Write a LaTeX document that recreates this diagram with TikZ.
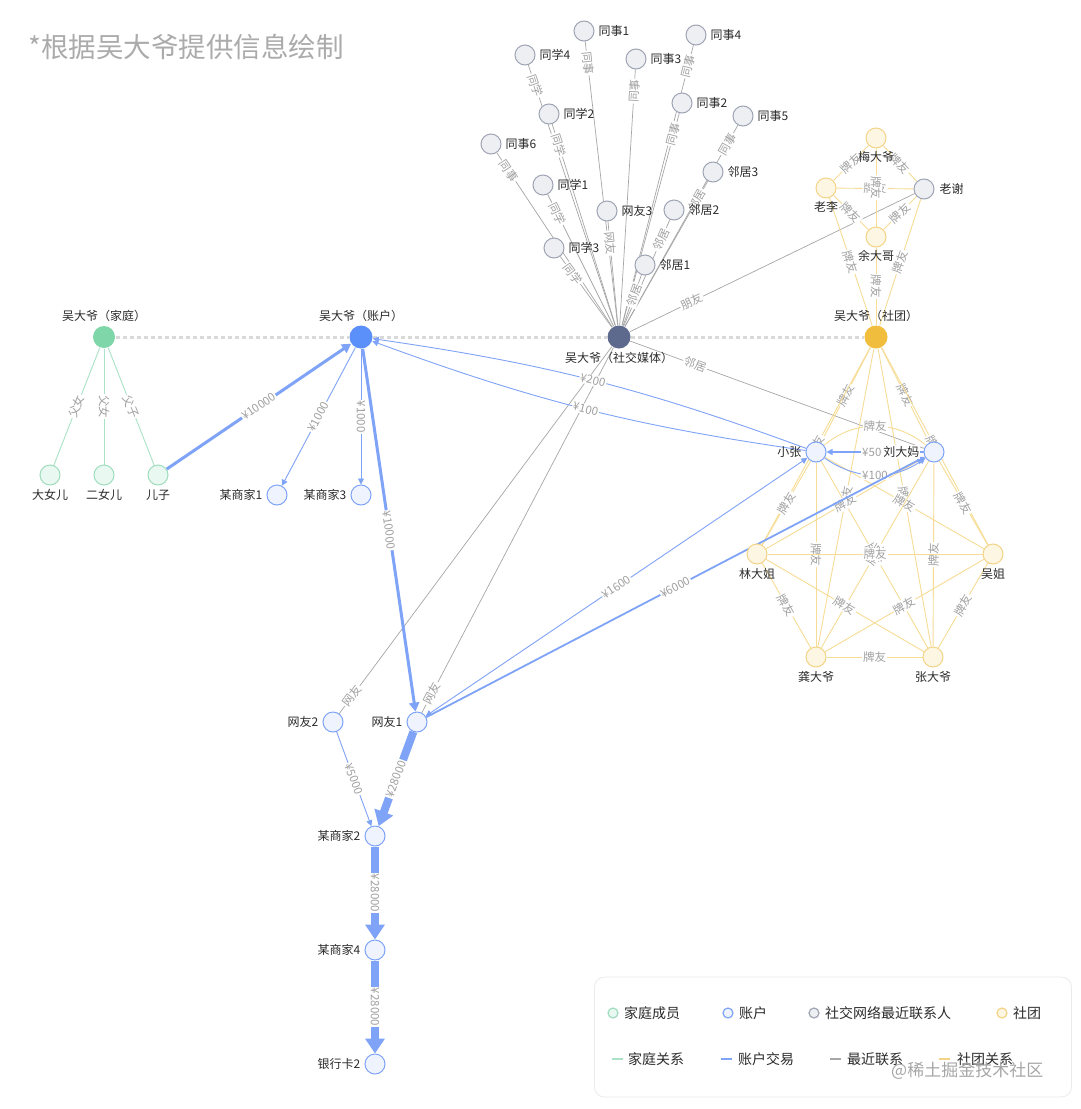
\documentclass[tikz,border=0pt]{standalone}
\usepackage{fontspec}
\setmainfont{Noto Sans CJK SC}
\usetikzlibrary{arrows.meta,calc,backgrounds}
\definecolor{famC}{HTML}{7ED6A9}
\definecolor{famF}{HTML}{E9F8F0}
\definecolor{famD}{HTML}{9EDDBD}
\definecolor{famE}{HTML}{A9E2C6}
\definecolor{accC}{HTML}{5B8FF9}
\definecolor{accF}{HTML}{EEF3FE}
\definecolor{accD}{HTML}{7FA4F7}
\definecolor{accE}{HTML}{7FA3F7}
\definecolor{socC}{HTML}{5E6A8D}
\definecolor{socF}{HTML}{EEEFF3}
\definecolor{socD}{HTML}{9EA4B3}
\definecolor{socE}{HTML}{A6A6A6}
\definecolor{clubC}{HTML}{F1BD3D}
\definecolor{clubF}{HTML}{FDF6E2}
\definecolor{clubD}{HTML}{F3D487}
\definecolor{clubE}{HTML}{F6DC95}
\definecolor{labT}{HTML}{2B2B2B}
\definecolor{elabT}{HTML}{A0A0A0}
\definecolor{dashC}{HTML}{D9D9D9}
\definecolor{legB}{HTML}{EBEBEB}
\begin{document}
\begin{tikzpicture}[x=1pt,y=-1pt,
  every node/.style={inner sep=0pt},
  base/.style={circle, minimum size=20pt, line width=1pt},
  famc/.style={base, fill=famC, minimum size=22pt},
  famn/.style={base, fill=famF, draw=famD},
  accc/.style={base, fill=accC, minimum size=23pt},
  accn/.style={base, fill=accF, draw=accD},
  socc/.style={base, fill=socC, minimum size=23pt},
  socn/.style={base, fill=socF, draw=socD},
  clubc/.style={base, fill=clubC, minimum size=23pt},
  clubn/.style={base, fill=clubF, draw=clubD},
  nlab/.style={font=\fontsize{12}{12}\selectfont, text=labT, inner sep=0pt},
  elab/.style={font=\fontsize{11.5}{12}\selectfont, text=elabT, sloped, fill=white, inner sep=1pt},
  centerline/.style={draw=dashC, line width=3pt, dash pattern=on 4pt off 3pt},
  famedge/.style={draw=famE, line width=0.9pt},
  accedge/.style={draw=accE, line width=0.9pt},
  socedge/.style={draw=socE, line width=0.7pt},
  clubedge/.style={draw=clubE, line width=0.9pt},
  thin arrow/.style={-{Triangle[length=6pt,width=6pt]}},
  mid arrow/.style={-{Triangle[length=9pt,width=10pt]}},
  big arrow/.style={-{Triangle[length=15pt,width=19pt]}},
  legtxt/.style={font=\fontsize{14}{14}\selectfont, text=labT, anchor=west},
]
\useasboundingbox (0,0) rectangle (1080,1109);

% ---------- title
\node[anchor=west, font=\fontsize{27.5}{28}\selectfont, text=black!33] (title) at (28,47) {*根据吴大爷提供信息绘制};

% ---------- center nodes
\node[famc, label={[nlab,label distance=4pt]above:吴大爷（家庭）}] (fam) at (104,337) {};
\node[accc, label={[nlab,label distance=3pt]above:吴大爷（账户）}] (acc) at (361,337) {};
\node[socc, label={[nlab,label distance=3pt]below:吴大爷（社交媒体）}] (soc) at (619,337) {};
\node[clubc, label={[nlab,label distance=3pt]above:吴大爷（社团）}] (club) at (876,337) {};

% ---------- family
\node[famn, label={[nlab,label distance=4pt]below:大女儿}] (d1) at (50,475) {};
\node[famn, label={[nlab,label distance=4pt]below:二女儿}] (d2) at (104,475) {};
\node[famn, label={[nlab,label distance=4pt]below:儿子}] (son) at (158,475) {};

% ---------- account
\node[accn, label={[nlab,label distance=4pt]left:某商家1}] (m1) at (277,495) {};
\node[accn, label={[nlab,label distance=4pt]left:某商家3}] (m3) at (361,495) {};
\node[accn, label={[nlab,label distance=4pt]left:网友1}] (wy1) at (417,722) {};
\node[accn, label={[nlab,label distance=4pt]left:网友2}] (wy2) at (333,722) {};
\node[accn, label={[nlab,label distance=4pt]left:某商家2}] (m2) at (375,836) {};
\node[accn, label={[nlab,label distance=4pt]left:某商家4}] (m4) at (375,950) {};
\node[accn, label={[nlab,label distance=4pt]left:银行卡2}] (bank) at (375,1064) {};
\node[accn, label={[nlab,label distance=4pt]left:小张}] (xz) at (816,452) {};
\node[accn, label={[nlab,fill=white,inner sep=1pt,label distance=3pt]left:刘大妈}] (ldm) at (934,452) {};

% ---------- social
\node[socn, label={[nlab,label distance=4pt]right:同事1}] (ts1) at (584,31) {};
\node[socn, label={[nlab,label distance=4pt]right:同学4}] (tx4) at (525,55) {};
\node[socn, label={[nlab,label distance=4pt]right:同事3}] (ts3) at (636,59) {};
\node[socn, label={[nlab,label distance=4pt]right:同事4}] (ts4) at (696,35) {};
\node[socn, label={[nlab,label distance=4pt]right:同学2}] (tx2) at (549,114) {};
\node[socn, label={[nlab,label distance=4pt]right:同事2}] (ts2) at (682,103) {};
\node[socn, label={[nlab,label distance=4pt]right:同事5}] (ts5) at (743,116) {};
\node[socn, label={[nlab,label distance=4pt]right:同事6}] (ts6) at (491,144) {};
\node[socn, label={[nlab,label distance=4pt]right:邻居3}] (lj3) at (713,172) {};
\node[socn, label={[nlab,label distance=4pt]right:同学1}] (tx1) at (543,185) {};
\node[socn, label={[nlab,label distance=4pt]right:网友3}] (wy3) at (607,211) {};
\node[socn, label={[nlab,label distance=4pt]right:邻居2}] (lj2) at (674,210) {};
\node[socn, label={[nlab,label distance=4pt]right:同学3}] (tx3) at (554,248) {};
\node[socn, label={[nlab,label distance=4pt]right:邻居1}] (lj1) at (645,265) {};
\node[socn, label={[nlab,label distance=5pt]right:老谢}] (lx) at (924,189) {};

% ---------- club
\node[clubn, label={[nlab,label distance=3pt]below:梅大爷}] (mdy) at (876,138) {};
\node[clubn, label={[nlab,label distance=3pt]below:老李}] (ll) at (826,188) {};
\node[clubn, label={[nlab,label distance=3pt]below:余大哥}] (ydg) at (876,237) {};
\node[clubn, label={[nlab,label distance=4pt]below:林大姐}] (ljz) at (757,554) {};
\node[clubn, label={[nlab,label distance=4pt]below:吴姐}] (wj) at (993,554) {};
\node[clubn, label={[nlab,label distance=4pt]below:龚大爷}] (gdy) at (816,657) {};
\node[clubn, label={[nlab,label distance=4pt]below:张大爷}] (zdy) at (933,657) {};

% ---------- legend
\node[draw=legB, fill=white, line width=0.8pt, rounded corners=10pt, minimum width=477pt, minimum height=120pt] (legend) at (833,1037) {};
\node[circle, draw=famD, fill=famF, line width=1.2pt, minimum size=10pt] (lc1) at (613,1013) {};
\node[legtxt] (lt1) at (624,1013) {家庭成员};
\node[circle, draw=accD, fill=accF, line width=1.2pt, minimum size=10pt] (lc2) at (728,1013) {};
\node[legtxt] (lt2) at (739,1013) {账户};
\node[circle, draw=socD, fill=socF, line width=1.2pt, minimum size=10pt] (lc3) at (814,1013) {};
\node[legtxt] (lt3) at (825,1013) {社交网络最近联系人};
\node[circle, draw=clubD, fill=clubF, line width=1.2pt, minimum size=10pt] (lc4) at (1002,1013) {};
\node[legtxt] (lt4) at (1013,1013) {社团};
\draw[famE, line width=1.2pt] (612,1059) -- (623,1059);
\node[legtxt] (lt5) at (628,1059) {家庭关系};
\draw[accD, line width=1.2pt] (721,1059) -- (732,1059);
\node[legtxt] (lt6) at (738,1059) {账户交易};
\draw[socE, line width=1.2pt] (830,1059) -- (841,1059);
\node[legtxt] (lt7) at (847,1059) {最近联系};
\draw[clubD, line width=1.2pt] (939,1059) -- (950,1059);
\node[legtxt] (lt8) at (957,1059) {社团关系};
\node[anchor=west, font=\fontsize{17}{17}\selectfont, text=black!35] (wm) at (891,1071) {@稀土掘金技术社区};

% ---------- edges
\begin{pgfonlayer}{background}
\fill[white] (0,0) rectangle (1080,1109);
\draw[centerline] (fam) -- (acc) -- (soc) -- (club);

% family
\draw[famedge] (fam) -- node[elab]{父女} (d1);
\draw[famedge] (fam) -- node[elab]{父女} (d2);
\draw[famedge] (fam) -- node[elab]{父子} (son);

% social
\foreach \n/\t in {ts1/同事, tx4/同学, ts3/同事, ts4/同事, tx2/同学, ts2/同事, ts5/同事, ts6/同事, lj3/邻居, tx1/同学, wy3/网友, lj2/邻居, tx3/同学, lj1/邻居, wy1/网友, wy2/网友}{
  \draw[socedge] (soc) -- (\n);
  \path (\n) -- node[elab]{\t} ($(\n)!54pt!(soc)$);
}
\draw[socedge] (soc) -- (lx);
\path (soc) -- node[elab]{朋友} ($(soc)!150pt!(lx)$);
\draw[socedge] (soc) -- (ldm);
\path (soc) -- node[elab]{邻居} ($(soc)!150pt!(ldm)$);

% club upper
\foreach \a/\b in {mdy/ll, mdy/lx, ll/lx, mdy/ydg, ll/ydg, lx/ydg, ll/club, ydg/club, lx/club}{
  \draw[clubedge] (\a) -- node[elab]{牌友} (\b);
}
% club lower
\foreach \a/\b in {club/xz, club/ldm, club/ljz, club/wj, club/gdy, club/zdy, xz/ljz, xz/wj, xz/gdy, xz/zdy, ldm/ljz, ldm/wj, ldm/gdy, ldm/zdy, ljz/wj, ljz/gdy, ljz/zdy, wj/gdy, wj/zdy, gdy/zdy}{
  \draw[clubedge] (\a) -- node[elab]{牌友} (\b);
}
\draw[clubedge] (xz) to[bend left=40] node[elab]{牌友} (ldm);

% account
\draw[accedge, line width=3pt, mid arrow] (son) -- node[elab]{¥10000} (acc);
\draw[accedge, thin arrow] (acc) -- node[elab]{¥1000} (m1);
\draw[accedge, thin arrow] (acc) -- node[elab]{¥1000} (m3);
\draw[accedge, line width=3pt, mid arrow] (acc) -- node[elab]{¥10000} (wy1);
\draw[accedge, thin arrow] (xz) to[bend right=6] node[elab]{¥200} (acc);
\draw[accedge, thin arrow] (xz) to[bend left=6] node[elab]{¥100} (acc);
\draw[accedge, line width=1.2pt, thin arrow] (ldm) -- node[elab]{¥500} (xz);
\draw[accedge, thin arrow] (xz) to[bend right=35] node[elab]{¥100} (ldm);
\draw[accedge, {Triangle[length=6pt,width=6pt]}-{Triangle[length=6pt,width=6pt]}] (wy1) -- node[elab]{¥1600} (xz);
\draw[accedge, line width=1.8pt, -{Triangle[length=8pt,width=8pt]}] (wy1) -- node[elab]{¥6000} (ldm);
\draw[accedge, thin arrow] (wy2) -- node[elab]{¥5000} (m2);
\draw[accedge, line width=8pt, big arrow] (wy1) -- node[elab]{¥28000} (m2);
\draw[accedge, line width=8pt, big arrow] (m2) -- node[elab]{¥28000} (m4);
\draw[accedge, line width=8pt, big arrow] (m4) -- node[elab]{¥28000} (bank);
\end{pgfonlayer}
\end{tikzpicture}
\end{document}
